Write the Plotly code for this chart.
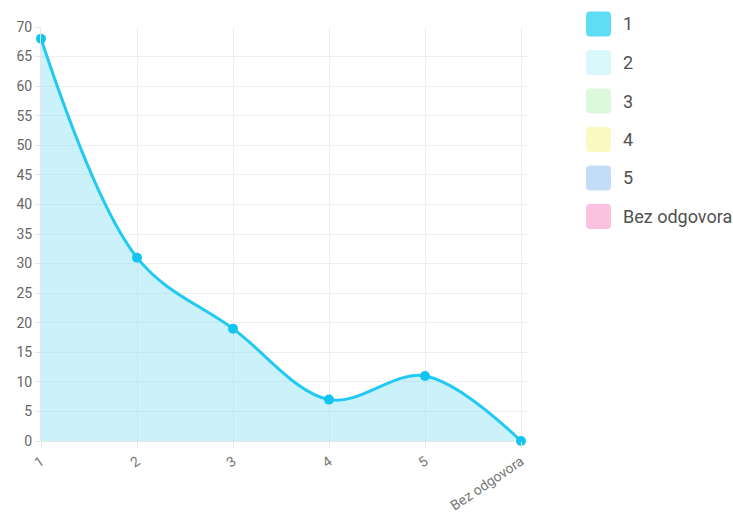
import plotly.graph_objects as go

categories = ["1", "2", "3", "4", "5", "Bez odgovora"]
values = [68, 31, 19, 7, 11, 0]
legend_colors = ["#5fdcf6", "#d8f8fb", "#dcf9dc", "#fbf8c2", "#c3dcf8", "#fcc1e0"]
y_ticks = list(range(0, 75, 5))

W, H = 733, 513
ML, MR, MT, MB = 41, 205, 27, 72
PW = W - ML - MR
PH = H - MT - MB

fig = go.Figure()
fig.add_trace(go.Scatter(
    x=list(range(len(categories))), y=values,
    mode="lines+markers",
    line=dict(color="#22c9f2", width=3, shape="spline", smoothing=1.0),
    marker=dict(color="#14c4f0", size=10),
    fill="tozeroy", fillcolor="rgba(110,215,245,0.36)",
    cliponaxis=False, showlegend=False, hoverinfo="skip",
))

def px2x(px):
    return (px - ML) / PW

def py2y(py):
    return (H - MB - py) / PH

shapes = []
annotations = []
for i, (cat, col) in enumerate(zip(categories, legend_colors)):
    cy = 24 + 38.5 * i
    x0, x1 = 586, 611
    y0, y1 = cy - 12.5, cy + 12.5
    r = 4
    path = (
        f"M {px2x(x0 + r)} {py2y(y0)} L {px2x(x1 - r)} {py2y(y0)} "
        f"Q {px2x(x1)} {py2y(y0)} {px2x(x1)} {py2y(y0 + r)} "
        f"L {px2x(x1)} {py2y(y1 - r)} Q {px2x(x1)} {py2y(y1)} {px2x(x1 - r)} {py2y(y1)} "
        f"L {px2x(x0 + r)} {py2y(y1)} Q {px2x(x0)} {py2y(y1)} {px2x(x0)} {py2y(y1 - r)} "
        f"L {px2x(x0)} {py2y(y0 + r)} Q {px2x(x0)} {py2y(y0)} {px2x(x0 + r)} {py2y(y0)} Z"
    )
    shapes.append(dict(type="path", xref="paper", yref="paper", path=path,
                       fillcolor=col, line=dict(width=0)))
    annotations.append(dict(xref="paper", yref="paper", x=px2x(621), y=py2y(cy),
                            text=cat, showarrow=False, xanchor="left", yanchor="middle",
                            font=dict(family="Roboto, sans-serif", size=18, color="#505050")))

fig.update_layout(
    width=W, height=H,
    margin=dict(l=ML, r=MR, t=MT, b=MB, autoexpand=False),
    paper_bgcolor="white", plot_bgcolor="white",
    font=dict(family="Roboto, sans-serif", size=14, color="#666666"),
    shapes=shapes, annotations=annotations,
    showlegend=False,
    xaxis=dict(
        range=[0, 5 * PW / 480], tickmode="array",
        tickvals=list(range(len(categories))), ticktext=categories,
        tickangle=-34, showgrid=True, gridcolor="#efefef", gridwidth=1,
        zeroline=False, showline=False,
        ticks="outside", ticklen=6, tickcolor="#e6e6e6",
        tickfont=dict(size=14, color="#777777"),
    ),
    yaxis=dict(
        range=[0, 70], tickmode="array", tickvals=y_ticks,
        showgrid=True, gridcolor="#efefef", gridwidth=1,
        zeroline=True, zerolinecolor="#e6e6e6", zerolinewidth=1,
        showline=True, linecolor="#e6e6e6", linewidth=1,
        ticks="outside", ticklen=5, tickcolor="#e6e6e6",
        tickfont=dict(size=14, color="#666666"),
    ),
)

fig.write_html("out.html", config={"displayModeBar": False},
               post_script="document.body.style.margin='0';")
